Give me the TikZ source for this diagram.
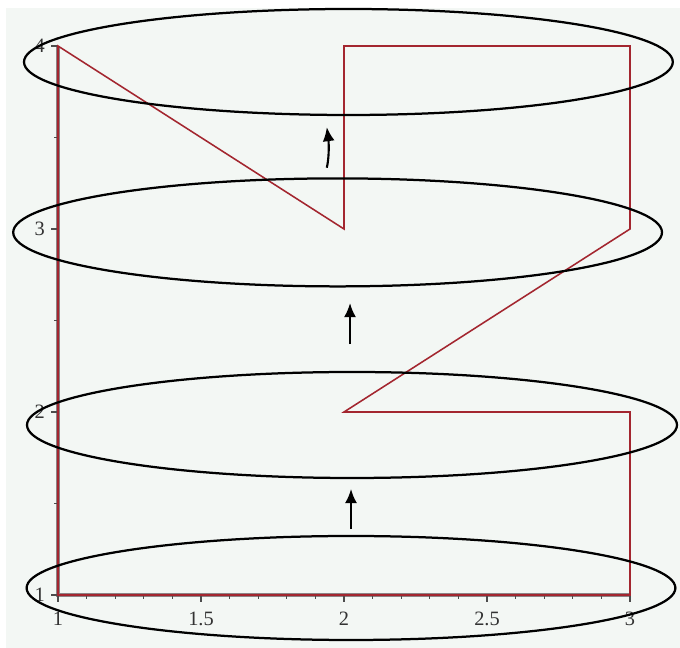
\documentclass[tikz,border=0pt]{standalone}
\usepackage{fontspec}
\setmainfont{Liberation Serif}
\usetikzlibrary{arrows.meta,bending,shapes.geometric}
\definecolor{fondo}{HTML}{F3F7F4}
\definecolor{camino}{HTML}{A3262F}
\definecolor{eje}{HTML}{8C8486}

\begin{document}
\begin{tikzpicture}[
    nivel/.style={draw,ellipse,line width=1.6pt,inner sep=0pt,minimum width=16.22cm},
    flecha/.style={-{Latex[length=10pt,width=8.5pt]},line width=1.5pt},
    marca/.style={black!70,line width=0.8pt},
    etiqueta/.style={font=\fontsize{14.5}{16}\selectfont,text=black!80}]
  \useasboundingbox (0,0) rectangle (17,16.2);
  \fill[white] (0,0) rectangle (17,16.2);
  \fill[fondo] (0.15,0) rectangle (17,16);
  \begin{scope}[shift={(-5.7,-3.25)},x=7.15cm,y=4.575cm]
    % ejes
    \draw[eje,line width=2.6pt] (1,4) -- (1,1) -- (3,1);
    \foreach \i in {0,...,20}
      \draw[marca] (1+\i/10,1) -- ++(0pt,-3pt);
    \foreach \x in {1,1.5,2,2.5,3}
      \draw[marca] (\x,1) -- ++(0pt,-5pt);
    \foreach \y in {1,...,4}
      \draw[marca] (1,\y) -- ++(-5pt,0pt);
    \foreach \y in {1.5,2.5,3.5}
      \draw[marca] (1,\y) -- ++(-3pt,0pt);
    \foreach \x [count=\k] in {1,1.5,2,2.5,3}
      \node[etiqueta] (ex\k) at (\x,0.872) {\x};
    \foreach \y in {1,...,4}
      \node[etiqueta,anchor=east] (ey\y) at (0.971,\y) {\y};
    % recorrido
    \draw[camino,line width=1.1pt] (1,1) -- (1,4) -- (2,3) -- (2,4) -- (3,4)
      -- (3,3) -- (2,2) -- (3,2) -- (3,1) -- cycle;
  \end{scope}
  % niveles
  \node[nivel,minimum height=2.6cm] (n1) at (8.775,1.5) {};
  \node[nivel,minimum height=2.65cm,minimum width=16.25cm] (n2) at (8.8,5.575) {};
  \node[nivel,minimum height=2.7cm] (n3) at (8.44,10.39) {};
  \node[nivel,minimum height=2.65cm] (n4) at (8.71,14.65) {};
  % subidas
  \draw[flecha,shorten <=4pt,shorten >=7pt] (n1.north) -- (n1.north |- n2.south);
  \draw[flecha,shorten <=19pt,shorten >=11pt] ([xshift=-0.05cm]n2.north) -- ([xshift=-0.05cm]n2.north |- n3.south);
  \draw[flecha,shorten <=7pt,shorten >=8pt] ([xshift=-0.33cm]n3.north) to[bend right=14] ([xshift=-0.33cm]n3.north |- n4.south);
\end{tikzpicture}
\end{document}
